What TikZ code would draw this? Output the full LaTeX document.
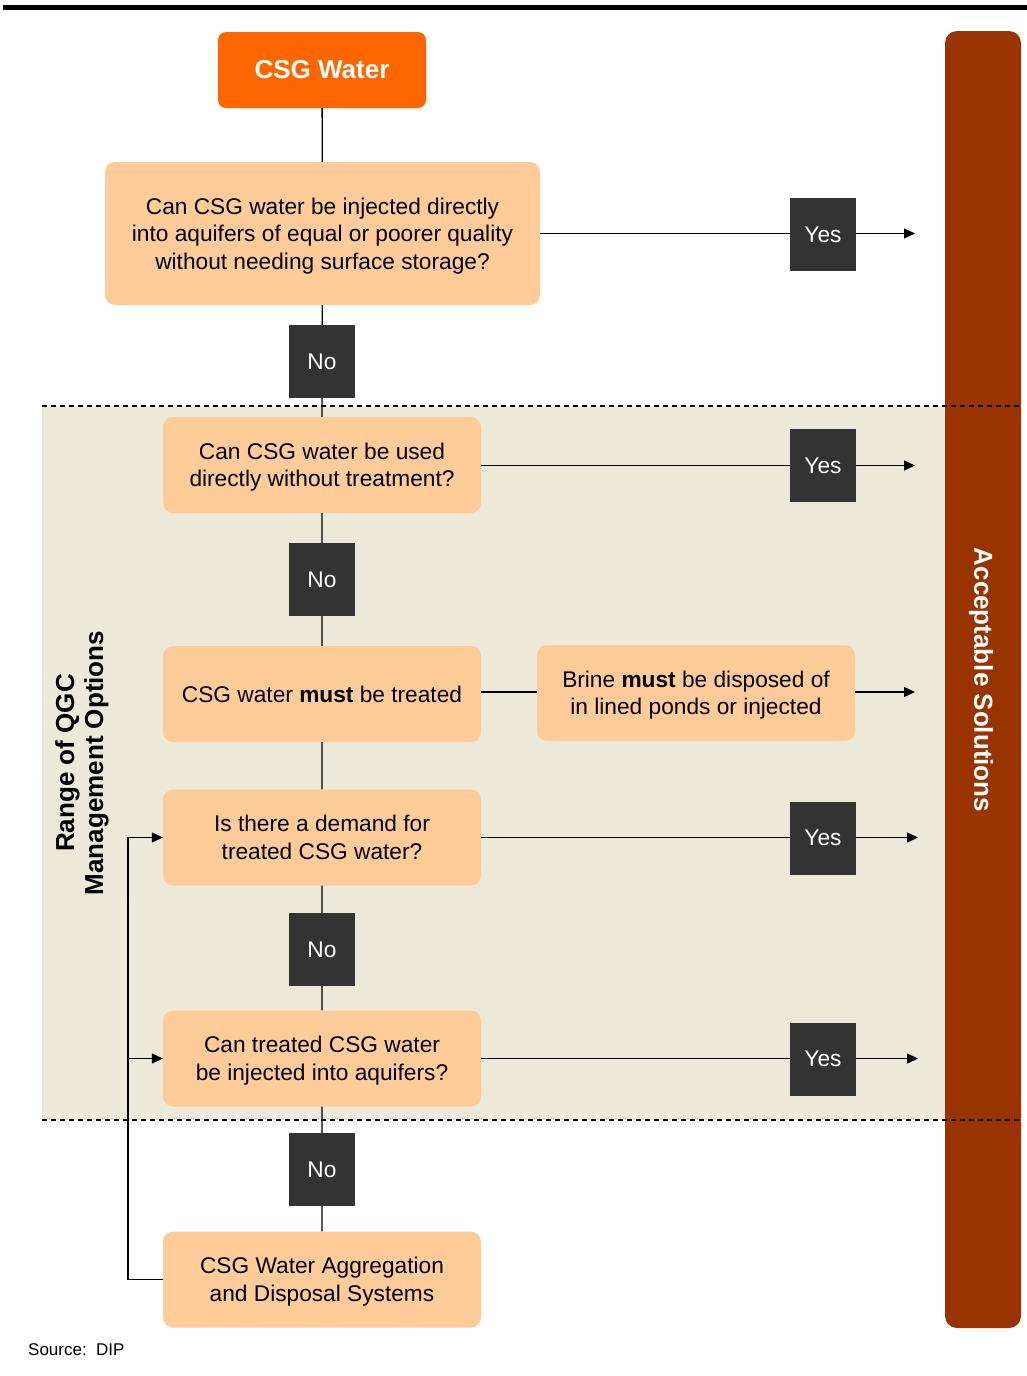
\documentclass[tikz,border=0pt]{standalone}
\usepackage{fontspec}
\setmainfont{Liberation Sans}
\usepackage{tikz}
\usetikzlibrary{calc,positioning,arrows.meta}

\definecolor{csgorange}{HTML}{FF6600}
\definecolor{peach}{HTML}{FFCC99}
\definecolor{tagdark}{HTML}{333333}
\definecolor{solbrown}{HTML}{993300}
\definecolor{rangebeige}{HTML}{ECE9D8}

\newcommand{\qfont}{\fontsize{22.7}{27.5}\selectfont}
\newcommand{\headfont}{\fontsize{26}{29}\selectfont\bfseries}

\begin{document}
\begin{tikzpicture}[
                x=1pt, y=-1pt,
                every node/.append style={inner sep=0pt,align=center},
                decision/.style={fill=peach,rounded corners=10pt,minimum width=318pt,minimum height=96pt,font=\qfont},
                lowtext/.style={text depth=-2pt},
                answer/.style={fill=tagdark,text=white,minimum width=66pt,minimum height=73pt,font=\qfont},
                flow/.style={line width=1.3pt},
                yesarrow/.style={flow,-{Triangle[length=11pt,width=10pt]}},
                zoneline/.style={line width=1.3pt,dash pattern=on 5pt off 4pt}
            ]
                \useasboundingbox (0,0) rectangle (1027,1376);
                \fill (3,5) rectangle (1027,10);
                \fill[rangebeige] (42,406) rectangle (945,1120);
                \node[fill=solbrown,rounded corners=12pt,minimum width=76pt,minimum height=1297pt] (solbar) at (983,679.5) {};
                \node[rotate=-90,text=white,font=\headfont] (sol) at (981,680) {Acceptable Solutions};
                \draw[zoneline] (42,406) -- (1022,406);
                \draw[zoneline] (42,1120) -- (1022,1120);
                \node[rotate=90,font=\headfont] (range) at (82,763) {Range of QGC\\Management Options};

                % main column
                \node[fill=csgorange,rounded corners=8pt,minimum width=208pt,minimum height=76pt,text=white,font=\headfont] (csg) at (322,70) {CSG Water};
                \node[decision,lowtext,minimum width=435pt,minimum height=143pt] (q1) at (322.5,233.5) {Can CSG water be injected directly\\into aquifers of equal or poorer quality\\without needing surface storage?};
                \node[answer] (no1) at (322,361.5) {No};
                \node[decision,lowtext] (q2) at (322,465) {Can CSG water be used\\directly without treatment?};
                \node[answer] (no2) at (322,579.5) {No};
                \node[decision] (q3) at (322,694) {CSG water \textbf{must} be treated};
                \node[decision,lowtext] (brine) at (696,693) {Brine \textbf{must} be disposed of\\in lined ponds or injected};
                \node[decision,lowtext] (q4) at (322,837.5) {Is there a demand for\\treated CSG water?};
                \node[answer] (no3) at (322,949.5) {No};
                \node[decision,lowtext] (q5) at (322,1058.5) {Can treated CSG water\\be injected into aquifers?};
                \node[answer] (no4) at (322,1169.5) {No};
                \node[decision,lowtext] (fin) at (322,1279.5) {CSG Water Aggregation\\and Disposal Systems};

                % yes column
                \node[answer] (yes1) at (823,234.5) {Yes};
                \node[answer] (yes2) at (823,465.5) {Yes};
                \node[answer] (yes3) at (823,838) {Yes};
                \node[answer] (yes4) at (823,1059) {Yes};
                \coordinate (end1) at (915,233.5);
                \coordinate (end2) at (915,465.5);
                \coordinate (end3) at (915,692);
                \coordinate (end4) at (918,837.5);
                \coordinate (end5) at (918,1058.5);
                \coordinate (fb) at (128,1279.5);

                \draw[flow] (csg) -- (q1) -- (no1) -- (q2) -- (no2) -- (q3) -- (q4) -- (no3) -- (q5) -- (no4) -- (fin);
                \draw[flow] (q1.east |- end1) -- (yes1.west |- end1);
                \draw[flow] (q2.east |- end2) -- (yes2.west |- end2);
                \draw[flow] (q3.east |- end3) -- (brine.west |- end3);
                \draw[flow] (q4.east |- end4) -- (yes3.west |- end4);
                \draw[flow] (q5.east |- end5) -- (yes4.west |- end5);
                \draw[yesarrow] (yes1.east |- end1) -- (end1);
                \draw[yesarrow] (yes2.east |- end2) -- (end2);
                \draw[yesarrow] (brine.east |- end3) -- (end3);
                \draw[yesarrow] (yes3.east |- end4) -- (end4);
                \draw[yesarrow] (yes4.east |- end5) -- (end5);
                \draw[yesarrow] (fin.west) -- (fb) |- (q4.west);
                \draw[yesarrow] (fb |- q5.west) -- (q5.west);

                \node[anchor=west,font=\fontsize{17}{20}\selectfont] (src) at (28,1350) {Source:\ \ DIP};
            \end{tikzpicture}
\end{document}
